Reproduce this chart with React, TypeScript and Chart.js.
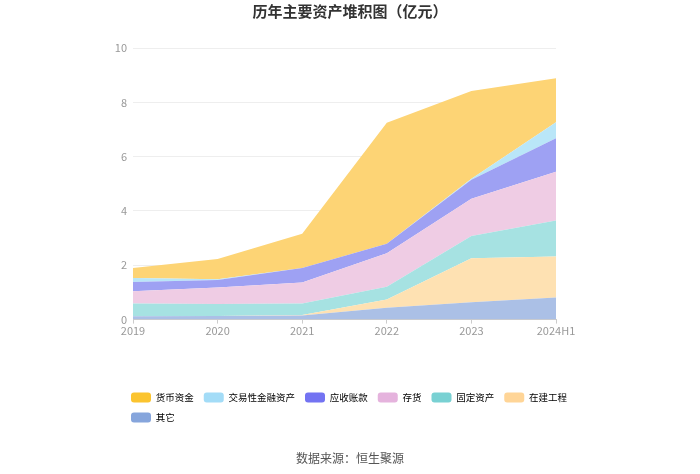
import React, { useEffect, useRef } from "react";
import { Chart, registerables } from "chart.js";

Chart.register(...registerables);

const categories = ["2019", "2020", "2021", "2022", "2023", "2024H1"];
const seriesNames = ["其它", "在建工程", "固定资产", "存货", "应收账款", "交易性金融资产", "货币资金"];
const other = [0.12, 0.13, 0.15, 0.44, 0.64, 0.81];
const construction = [0.0, 0.0, 0.02, 0.3, 1.62, 1.51];
const fixedAssets = [0.47, 0.44, 0.42, 0.47, 0.82, 1.33];
const inventory = [0.45, 0.61, 0.78, 1.23, 1.37, 1.79];
const receivables = [0.34, 0.28, 0.53, 0.35, 0.7, 1.24];
const tradingAssets = [0.15, 0.03, 0.0, 0.0, 0.04, 0.59];
const cash = [0.37, 0.74, 1.26, 4.46, 3.23, 1.62];
const yTicks = [0, 2, 4, 6, 8, 10];

const fillColors = ["#abc0e6", "#fee1b2", "#a6e2e2", "#efcce4", "#9ea1f3", "#b9e6f8", "#fdd475"];
const legendColors = ["#86a5dc", "#ffd597", "#79d1d3", "#e5b3dd", "#7373f2", "#a3dcf7", "#fbc42f"];

export default function App() {
  const ref = useRef<HTMLCanvasElement>(null);
  useEffect(() => {
    document.body.style.margin = "0";
    const values = [other, construction, fixedAssets, inventory, receivables, tradingAssets, cash];
    const font = "'Noto Sans CJK SC', 'Noto Sans', sans-serif";
    Chart.defaults.font.family = font;
    const adjustBoxes = {
      id: "adjustBoxes",
      afterLayout(c: any) {
        const y = c.scales.y;
        y.left = y.right - 40;
        y.width = 40;
        (c.boxes || []).forEach((b: any) => {
          if (b && b.options && typeof b.options.text === "string") {
            b.left = 0;
            b.right = c.width;
            b.width = c.width;
          }
        });
      },
    };
    const chart = new Chart(ref.current!, {
      type: "line",
      data: {
        labels: categories,
        datasets: seriesNames.map((name, i) => ({
          label: name,
          data: values[i],
          fill: i === 0 ? "origin" : "-1",
          backgroundColor: fillColors[i],
          borderColor: fillColors[i],
          borderWidth: 0,
          pointRadius: 0,
          tension: 0,
        })),
      },
      plugins: [adjustBoxes],
      options: {
        animation: false,
        responsive: false,
        layout: { padding: { left: 121, right: 79, top: 0, bottom: 0 } },
        scales: {
          x: {
            type: "category",
            offset: false,
            grid: { drawOnChartArea: false, drawTicks: true, tickLength: 4, color: "#cccccc" },
            border: { display: true, color: "#cccccc" },
            ticks: { color: "#999999", font: { size: 11 }, padding: 1, maxRotation: 0, autoSkip: false },
            afterFit: (s: any) => {
              s.height = 63;
            },
          },
          y: {
            stacked: true,
            min: 0,
            max: 10,
            afterBuildTicks: (s: any) => {
              s.ticks = yTicks.map((v) => ({ value: v }));
            },
            grid: { color: "#eeeeee", drawTicks: false },
            border: { display: false },
            ticks: { color: "#999999", font: { size: 11 }, padding: 6 },
            afterFit: (s: any) => {
              s.width = 12;
            },
          },
          yRight: {
            position: "right",
            display: true,
            grid: { display: false },
            border: { display: false },
            ticks: { display: false },
            afterFit: (s: any) => {
              s.width = 65;
            },
          },
        },
        plugins: {
          title: {
            display: true,
            text: "历年主要资产堆积图（亿元）",
            color: "#333333",
            font: { size: 15, weight: "bold" },
            padding: { top: 2, bottom: 28 },
          },
          subtitle: {
            display: true,
            position: "bottom",
            text: "数据来源：恒生聚源",
            color: "#555555",
            font: { size: 12 },
            padding: { top: 19, bottom: 8 },
          },
          legend: {
            position: "bottom",
            align: "start",
            reverse: true,
            labels: {
              boxWidth: 20,
              boxHeight: 10,
              padding: 10,
              color: "#666666",
              font: { size: 9.5 },
              generateLabels: (c: any) =>
                c.data.datasets.map((ds: any, i: number) => ({
                  text: ds.label,
                  fillStyle: legendColors[i],
                  strokeStyle: legendColors[i],
                  lineWidth: 0,
                  borderRadius: 3,
                  hidden: !c.isDatasetVisible(i),
                  datasetIndex: i,
                })),
            },
          },
          tooltip: { enabled: false },
        },
      },
    });
    return () => chart.destroy();
  }, []);
  return <canvas ref={ref} width={700} height={474} style={{ display: "block", width: 700, height: 474 }} />;
}
